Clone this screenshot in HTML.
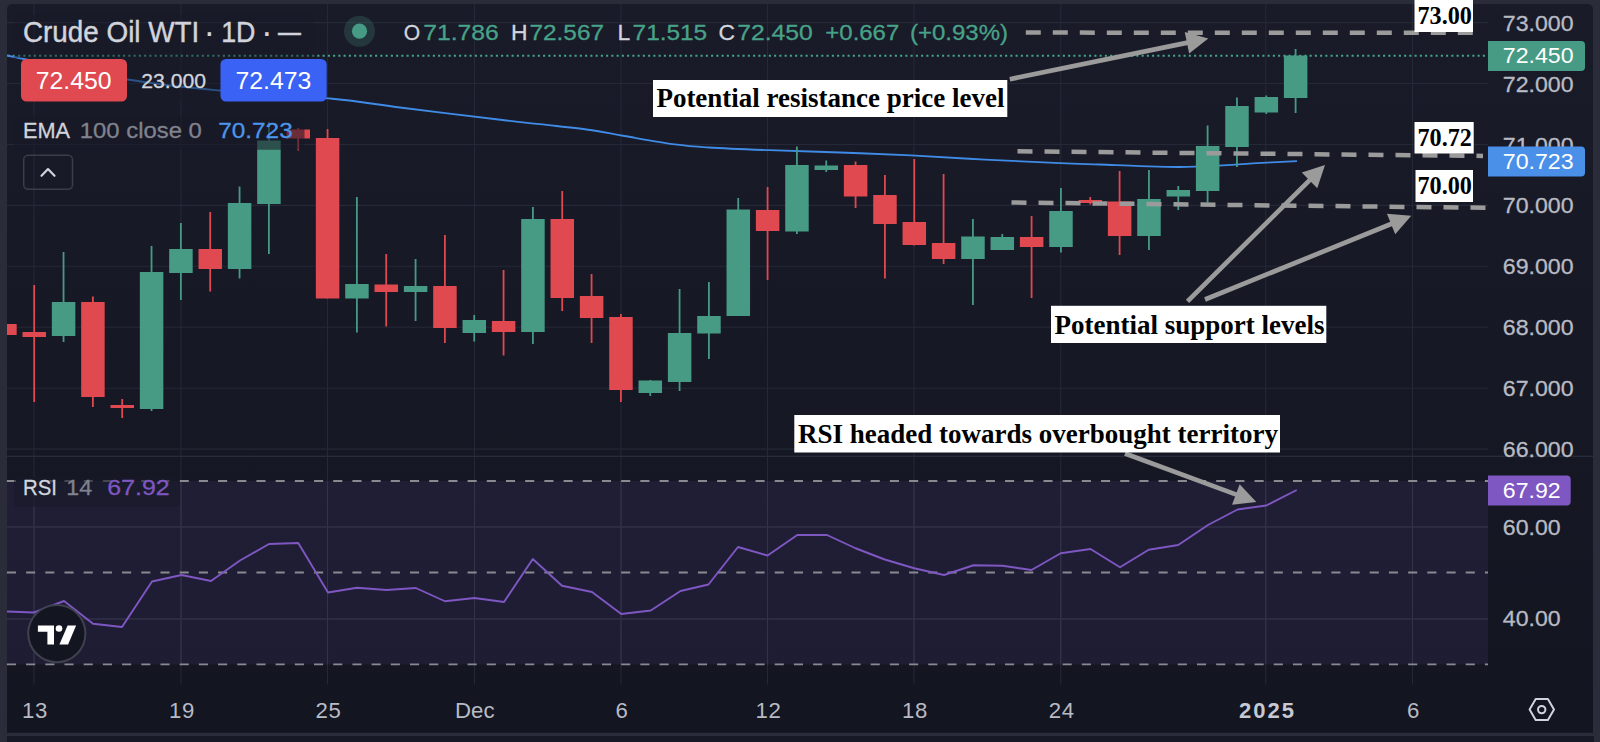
<!DOCTYPE html>
<html lang="en"><head><meta charset="utf-8"><title>Crude Oil WTI chart</title>
<style>
html,body{margin:0;padding:0;background:#2a2d39;}
body{width:1600px;height:742px;overflow:hidden;position:relative;}
svg{position:absolute;left:0;top:0;display:block;}
.s{font-family:"Liberation Sans",Arial,sans-serif;}
.f{font-family:"Liberation Serif","Times New Roman",serif;font-weight:700;fill:#000;}
</style></head><body>
<svg width="1600" height="742" viewBox="0 0 1600 742">
<defs><linearGradient id="bg" x1="0" y1="0" x2="0" y2="1"><stop offset="0" stop-color="#191b28"/><stop offset="1" stop-color="#131521"/></linearGradient><clipPath id="cp"><rect x="7" y="4" width="1481" height="681"/></clipPath></defs>

<path d="M7 732.8V9a5 5 0 0 1 5 -5H1588a5 5 0 0 1 5 5V732.8Z" fill="url(#bg)"/>
<rect x="7" y="736.1" width="1587" height="20" fill="#171926"/>
<g stroke="#252837" stroke-width="1.1">
<line x1="7" x2="1488" y1="22.60" y2="22.60"/>
<line x1="7" x2="1488" y1="83.53" y2="83.53"/>
<line x1="7" x2="1488" y1="144.46" y2="144.46"/>
<line x1="7" x2="1488" y1="205.39" y2="205.39"/>
<line x1="7" x2="1488" y1="266.32" y2="266.32"/>
<line x1="7" x2="1488" y1="327.25" y2="327.25"/>
<line x1="7" x2="1488" y1="388.18" y2="388.18"/>
<line x1="7" x2="1488" y1="449.11" y2="449.11"/>
<line x1="7" x2="1488" y1="527" y2="527"/>
<line x1="7" x2="1488" y1="619" y2="619"/>
<line x1="34" x2="34" y1="4" y2="684.5"/>
<line x1="181" x2="181" y1="4" y2="684.5"/>
<line x1="327.5" x2="327.5" y1="4" y2="684.5"/>
<line x1="474.5" x2="474.5" y1="4" y2="684.5"/>
<line x1="621" x2="621" y1="4" y2="684.5"/>
<line x1="767.5" x2="767.5" y1="4" y2="684.5"/>
<line x1="914" x2="914" y1="4" y2="684.5"/>
<line x1="1060.75" x2="1060.75" y1="4" y2="684.5"/>
<line x1="1265.7" x2="1265.7" y1="4" y2="684.5"/>
<line x1="1412.5" x2="1412.5" y1="4" y2="684.5"/>
</g>
<rect x="7" y="455.7" width="1586" height="1.2" fill="#2b2e3c"/>
<rect x="7" y="481" width="1481" height="183.5" fill="#7e57c2" fill-opacity="0.115"/>
<g stroke="#343249" stroke-width="1.1">
<line x1="7" x2="1488" y1="527" y2="527"/>
<line x1="7" x2="1488" y1="619" y2="619"/>
<line x1="34" x2="34" y1="481" y2="664.5"/>
<line x1="181" x2="181" y1="481" y2="664.5"/>
<line x1="327.5" x2="327.5" y1="481" y2="664.5"/>
<line x1="474.5" x2="474.5" y1="481" y2="664.5"/>
<line x1="621" x2="621" y1="481" y2="664.5"/>
<line x1="767.5" x2="767.5" y1="481" y2="664.5"/>
<line x1="914" x2="914" y1="481" y2="664.5"/>
<line x1="1060.75" x2="1060.75" y1="481" y2="664.5"/>
<line x1="1265.7" x2="1265.7" y1="481" y2="664.5"/>
<line x1="1412.5" x2="1412.5" y1="481" y2="664.5"/>
</g>
<g stroke="#89898f" stroke-width="1.85" stroke-dasharray="9.1 10.095" fill="none">
<line x1="6.9" x2="1488" y1="481" y2="481"/>
<line x1="6.9" x2="1488" y1="572.5" y2="572.5"/>
<line x1="6.9" x2="1488" y1="664.3" y2="664.3"/>
</g>
<line x1="7.6" x2="1488" y1="55.8" y2="55.8" stroke="#45a589" stroke-width="1.9" stroke-dasharray="2.05 3.2"/>
<g clip-path="url(#cp)">
<path d="M7 55.5C27.1 59.5 92.0 73.7 127.5 79.5C163.0 85.3 185.8 87.3 220 90.5C254.2 93.7 302.5 95.9 332.5 98.75C362.5 101.6 371.7 104.0 400 107.5C428.3 111.0 479.2 117.2 502.5 120C525.8 122.8 525.3 122.5 540 124.2C554.7 125.9 576.5 128.0 590.6 130C604.7 132.0 610.3 133.6 624.4 136C638.5 138.4 661.0 142.5 675 144.4C689.0 146.3 693.0 146.5 708.7 147.5C724.5 148.5 747.6 149.4 769.5 150.2C791.4 151.0 816.4 151.6 840 152.5C863.6 153.4 886.8 154.2 911 155.4C935.2 156.6 960.2 158.3 985 159.6C1009.8 160.9 1040.8 162.3 1060 163.1C1079.2 163.9 1086.7 164.0 1100 164.5C1113.3 165.0 1126.7 165.7 1140 166.1C1153.3 166.5 1166.9 167.1 1180 167C1193.1 166.9 1206.6 166.2 1218.7 165.6C1230.8 165.0 1239.5 164.2 1252.5 163.4C1265.5 162.7 1289.6 161.5 1297 161.1" fill="none" stroke="#3f8be6" stroke-width="1.8" stroke-linejoin="round"/>
<rect x="-6.83" y="324" width="23.5" height="11.00" fill="#e0494f"/>
<rect x="33.30" y="285" width="1.8" height="117.00" fill="#e0494f"/>
<rect x="22.50" y="332" width="23.5" height="5.00" fill="#e0494f"/>
<rect x="62.64" y="252" width="1.8" height="90.00" fill="#479b84"/>
<rect x="51.84" y="302" width="23.5" height="34.00" fill="#479b84"/>
<rect x="91.97" y="296.5" width="1.8" height="110.50" fill="#e0494f"/>
<rect x="81.17" y="302" width="23.5" height="95.00" fill="#e0494f"/>
<rect x="121.30" y="399" width="1.8" height="19.00" fill="#e0494f"/>
<rect x="110.50" y="405" width="23.5" height="3.00" fill="#e0494f"/>
<rect x="150.64" y="246" width="1.8" height="165.00" fill="#479b84"/>
<rect x="139.84" y="272" width="23.5" height="137.00" fill="#479b84"/>
<rect x="179.97" y="223" width="1.8" height="77.00" fill="#479b84"/>
<rect x="169.18" y="249" width="23.5" height="24.00" fill="#479b84"/>
<rect x="209.31" y="212" width="1.8" height="79.50" fill="#e0494f"/>
<rect x="198.51" y="249" width="23.5" height="20.00" fill="#e0494f"/>
<rect x="238.65" y="186.5" width="1.8" height="92.00" fill="#479b84"/>
<rect x="227.85" y="203" width="23.5" height="66.00" fill="#479b84"/>
<rect x="267.98" y="122" width="1.8" height="132.00" fill="#479b84"/>
<rect x="257.18" y="140.5" width="23.5" height="63.50" fill="#479b84"/>
<rect x="297.31" y="128" width="1.8" height="22.50" fill="#e0494f"/>
<rect x="286.51" y="129.5" width="23.5" height="9.00" fill="#e0494f"/>
<rect x="326.65" y="129" width="1.8" height="169.50" fill="#e0494f"/>
<rect x="315.85" y="138" width="23.5" height="160.50" fill="#e0494f"/>
<rect x="355.99" y="197" width="1.8" height="135.50" fill="#479b84"/>
<rect x="345.19" y="284" width="23.5" height="14.50" fill="#479b84"/>
<rect x="385.32" y="254" width="1.8" height="72.50" fill="#e0494f"/>
<rect x="374.52" y="284.5" width="23.5" height="7.50" fill="#e0494f"/>
<rect x="414.66" y="259" width="1.8" height="62.00" fill="#479b84"/>
<rect x="403.86" y="286" width="23.5" height="6.00" fill="#479b84"/>
<rect x="443.99" y="235" width="1.8" height="108.00" fill="#e0494f"/>
<rect x="433.19" y="286" width="23.5" height="42.00" fill="#e0494f"/>
<rect x="473.33" y="315" width="1.8" height="26.50" fill="#479b84"/>
<rect x="462.53" y="320" width="23.5" height="13.00" fill="#479b84"/>
<rect x="502.66" y="270" width="1.8" height="85.50" fill="#e0494f"/>
<rect x="491.86" y="321" width="23.5" height="11.00" fill="#e0494f"/>
<rect x="532.00" y="207" width="1.8" height="137.00" fill="#479b84"/>
<rect x="521.19" y="219" width="23.5" height="113.00" fill="#479b84"/>
<rect x="561.33" y="191" width="1.8" height="120.00" fill="#e0494f"/>
<rect x="550.53" y="219" width="23.5" height="79.00" fill="#e0494f"/>
<rect x="590.67" y="274" width="1.8" height="69.00" fill="#e0494f"/>
<rect x="579.87" y="296" width="23.5" height="22.00" fill="#e0494f"/>
<rect x="620.00" y="314" width="1.8" height="88.00" fill="#e0494f"/>
<rect x="609.20" y="317" width="23.5" height="73.00" fill="#e0494f"/>
<rect x="649.34" y="380" width="1.8" height="16.00" fill="#479b84"/>
<rect x="638.53" y="380.5" width="23.5" height="12.50" fill="#479b84"/>
<rect x="678.67" y="289" width="1.8" height="102.00" fill="#479b84"/>
<rect x="667.87" y="333" width="23.5" height="49.00" fill="#479b84"/>
<rect x="708.01" y="282" width="1.8" height="77.00" fill="#479b84"/>
<rect x="697.21" y="316" width="23.5" height="17.50" fill="#479b84"/>
<rect x="737.34" y="198" width="1.8" height="118.00" fill="#479b84"/>
<rect x="726.54" y="209.5" width="23.5" height="106.50" fill="#479b84"/>
<rect x="766.68" y="187" width="1.8" height="93.00" fill="#e0494f"/>
<rect x="755.88" y="210" width="23.5" height="21.00" fill="#e0494f"/>
<rect x="796.01" y="146.5" width="1.8" height="87.50" fill="#479b84"/>
<rect x="785.21" y="165" width="23.5" height="66.50" fill="#479b84"/>
<rect x="825.35" y="160.5" width="1.8" height="11.50" fill="#479b84"/>
<rect x="814.55" y="165.5" width="23.5" height="4.50" fill="#479b84"/>
<rect x="854.68" y="161.5" width="1.8" height="46.50" fill="#e0494f"/>
<rect x="843.88" y="165" width="23.5" height="31.50" fill="#e0494f"/>
<rect x="884.02" y="175" width="1.8" height="103.50" fill="#e0494f"/>
<rect x="873.22" y="195" width="23.5" height="29.00" fill="#e0494f"/>
<rect x="913.35" y="159" width="1.8" height="86.50" fill="#e0494f"/>
<rect x="902.55" y="222" width="23.5" height="23.00" fill="#e0494f"/>
<rect x="942.69" y="174" width="1.8" height="90.00" fill="#e0494f"/>
<rect x="931.88" y="243" width="23.5" height="16.00" fill="#e0494f"/>
<rect x="972.02" y="219" width="1.8" height="86.00" fill="#479b84"/>
<rect x="961.22" y="236.5" width="23.5" height="22.50" fill="#479b84"/>
<rect x="1001.36" y="234" width="1.8" height="16.00" fill="#479b84"/>
<rect x="990.56" y="237" width="23.5" height="13.00" fill="#479b84"/>
<rect x="1030.69" y="216" width="1.8" height="82.00" fill="#e0494f"/>
<rect x="1019.89" y="237" width="23.5" height="10.00" fill="#e0494f"/>
<rect x="1060.03" y="188" width="1.8" height="64.50" fill="#479b84"/>
<rect x="1049.23" y="211" width="23.5" height="36.00" fill="#479b84"/>
<rect x="1089.36" y="197" width="1.8" height="7.50" fill="#e0494f"/>
<rect x="1078.56" y="200" width="23.5" height="3.00" fill="#e0494f"/>
<rect x="1118.69" y="171" width="1.8" height="84.00" fill="#e0494f"/>
<rect x="1107.89" y="201.5" width="23.5" height="34.50" fill="#e0494f"/>
<rect x="1148.03" y="170" width="1.8" height="80.00" fill="#479b84"/>
<rect x="1137.23" y="199" width="23.5" height="37.00" fill="#479b84"/>
<rect x="1177.37" y="186" width="1.8" height="24.00" fill="#479b84"/>
<rect x="1166.57" y="190" width="23.5" height="6.50" fill="#479b84"/>
<rect x="1206.70" y="125.5" width="1.8" height="77.00" fill="#479b84"/>
<rect x="1195.90" y="146" width="23.5" height="45.00" fill="#479b84"/>
<rect x="1236.04" y="97.5" width="1.8" height="69.50" fill="#479b84"/>
<rect x="1225.24" y="106" width="23.5" height="41.00" fill="#479b84"/>
<rect x="1265.37" y="95.5" width="1.8" height="18.50" fill="#479b84"/>
<rect x="1254.57" y="97" width="23.5" height="15.50" fill="#479b84"/>
<rect x="1294.70" y="49" width="1.8" height="64.00" fill="#479b84"/>
<rect x="1283.90" y="55.5" width="23.5" height="42.50" fill="#479b84"/>
</g>
<polyline points="7,611.5 34,612.5 64,601 93,623.75 122,627 152,581.5 181.5,575 211,581 240,560.5 269,544 298.3,543 328,592.5 357,587.75 386.5,590 415.75,588 445,601.25 474.5,598 504,602 532.8,559 562,585.75 592,592 621.25,614 650.75,610.5 680.5,591 708.5,584.5 738,547 767.6,555.5 797.3,535 827,535 855.5,548.25 884.7,559.5 914.2,568.25 944,575 973.5,565.25 1002.5,565.75 1031.5,570 1060.75,553.25 1090.5,549 1120,567.3 1148.7,549.7 1178.25,545 1208,525 1237.5,509.5 1266.25,505.5 1296.75,490" fill="none" stroke="#7e57c2" stroke-width="1.9" stroke-linejoin="round"/>
<rect x="14" y="116" width="290.5" height="33.7" rx="3" fill="#181a27" fill-opacity="0.58"/>
<rect x="14" y="477" width="166" height="29.8" rx="3" fill="#171926" fill-opacity="0.6"/>
<rect x="14" y="14" width="300" height="44" fill="#181a27" fill-opacity="0.4"/>
<text class="s" y="42.2" font-size="29.6" fill="#d1d4dc" stroke="#d1d4dc" stroke-width="0.45"><tspan x="23" textLength="176.2" lengthAdjust="spacingAndGlyphs">Crude Oil WTI</tspan><tspan font-size="1"> </tspan><tspan x="203.4" y="44.3" font-size="35" stroke-width="0">·</tspan><tspan font-size="1"> </tspan><tspan x="221.2" y="42.2" textLength="34.3" lengthAdjust="spacingAndGlyphs">1D</tspan><tspan font-size="1"> </tspan><tspan x="261.1" y="44.3" font-size="35" stroke-width="0">·</tspan><tspan font-size="1"> </tspan><tspan x="278" y="42" textLength="22.9" lengthAdjust="spacingAndGlyphs">—</tspan></text>
<circle cx="359.5" cy="31.2" r="15.5" fill="#479b84" fill-opacity="0.22"/><circle cx="359.5" cy="31.2" r="7.6" fill="#479b84"/>
<text class="s" x="403.7" y="40.1" font-size="22.9" fill="#d1d4dc" stroke="#d1d4dc" stroke-width="0.3" textLength="16.4" lengthAdjust="spacingAndGlyphs">O</text>
<text class="s" x="423.2" y="40.1" font-size="22.9" fill="#48a288" stroke="#48a288" stroke-width="0.3" textLength="75.5" lengthAdjust="spacingAndGlyphs">71.786</text>
<text class="s" x="511" y="40.1" font-size="22.9" fill="#d1d4dc" stroke="#d1d4dc" stroke-width="0.3">H</text>
<text class="s" x="529.5" y="40.1" font-size="22.9" fill="#48a288" stroke="#48a288" stroke-width="0.3" textLength="74.5" lengthAdjust="spacingAndGlyphs">72.567</text>
<text class="s" x="617.5" y="40.1" font-size="22.9" fill="#d1d4dc" stroke="#d1d4dc" stroke-width="0.3">L</text>
<text class="s" x="632.6" y="40.1" font-size="22.9" fill="#48a288" stroke="#48a288" stroke-width="0.3" textLength="74.5" lengthAdjust="spacingAndGlyphs">71.515</text>
<text class="s" x="718.5" y="40.1" font-size="22.9" fill="#d1d4dc" stroke="#d1d4dc" stroke-width="0.3">C</text>
<text class="s" x="737.2" y="40.1" font-size="22.9" fill="#48a288" stroke="#48a288" stroke-width="0.3" textLength="75.5" lengthAdjust="spacingAndGlyphs">72.450</text>
<text class="s" x="825.3" y="40.1" font-size="22.9" fill="#48a288" stroke="#48a288" stroke-width="0.3" textLength="74" lengthAdjust="spacingAndGlyphs">+0.667</text>
<text class="s" x="910" y="40.1" font-size="22.9" fill="#48a288" stroke="#48a288" stroke-width="0.3" textLength="98" lengthAdjust="spacingAndGlyphs">(+0.93%)</text>
<rect x="21" y="59" width="106" height="42.6" rx="5.5" fill="#e0494f"/>
<text class="s" x="35.7" y="89.3" font-size="23.4" fill="#fff" textLength="75.9" lengthAdjust="spacingAndGlyphs">72.450</text>
<rect x="127" y="59" width="94" height="42.6" fill="#181a27" fill-opacity="0.5"/>
<text class="s" x="141.3" y="87.8" font-size="20.6" fill="#d1d4dc" stroke="#d1d4dc" stroke-width="0.3" textLength="64.8" lengthAdjust="spacingAndGlyphs">23.000</text>
<rect x="220.5" y="59" width="106.2" height="42.6" rx="5.5" fill="#3a62f5"/>
<text class="s" x="235.4" y="89.3" font-size="23.4" fill="#fff" textLength="75.9" lengthAdjust="spacingAndGlyphs">72.473</text>
<text class="s" x="23" y="138" font-size="22.3" fill="#d1d4dc" stroke="#d1d4dc" stroke-width="0.3" textLength="47" lengthAdjust="spacingAndGlyphs">EMA</text>
<text class="s" x="79.8" y="138" font-size="22.3" fill="#80838e" stroke="#80838e" stroke-width="0.3" textLength="122" lengthAdjust="spacingAndGlyphs">100 close 0</text>
<text class="s" x="218.2" y="138" font-size="22.3" fill="#4b96ea" stroke="#4b96ea" stroke-width="0.3" textLength="74.5" lengthAdjust="spacingAndGlyphs">70.723</text>
<rect x="23.7" y="155.2" width="48.8" height="34" rx="4.5" fill="none" stroke="#3a3d4a" stroke-width="1.5"/>
<polyline points="41.5,175.8 48,169.1 54.5,175.8" fill="none" stroke="#d1d4dc" stroke-width="2.2" stroke-linecap="round" stroke-linejoin="round"/>
<text class="s" x="23" y="494.9" font-size="22.2" fill="#d1d4dc" stroke="#d1d4dc" stroke-width="0.3" textLength="34" lengthAdjust="spacingAndGlyphs">RSI</text>
<text class="s" x="66.3" y="494.9" font-size="22.2" fill="#80838e" stroke="#80838e" stroke-width="0.3" textLength="25.8" lengthAdjust="spacingAndGlyphs">14</text>
<text class="s" x="107.3" y="494.9" font-size="22.2" fill="#7e57c2" stroke="#7e57c2" stroke-width="0.3" textLength="62.4" lengthAdjust="spacingAndGlyphs">67.92</text>
<text class="s" x="1502.8" y="30.7" font-size="22.8" fill="#b8bbc4" stroke="#b8bbc4" stroke-width="0.3" textLength="70.8" lengthAdjust="spacingAndGlyphs">73.000</text>
<text class="s" x="1502.8" y="91.63000000000001" font-size="22.8" fill="#b8bbc4" stroke="#b8bbc4" stroke-width="0.3" textLength="70.8" lengthAdjust="spacingAndGlyphs">72.000</text>
<text class="s" x="1502.8" y="152.56" font-size="22.8" fill="#b8bbc4" stroke="#b8bbc4" stroke-width="0.3" textLength="70.8" lengthAdjust="spacingAndGlyphs">71.000</text>
<text class="s" x="1502.8" y="213.48999999999998" font-size="22.8" fill="#b8bbc4" stroke="#b8bbc4" stroke-width="0.3" textLength="70.8" lengthAdjust="spacingAndGlyphs">70.000</text>
<text class="s" x="1502.8" y="274.42" font-size="22.8" fill="#b8bbc4" stroke="#b8bbc4" stroke-width="0.3" textLength="70.8" lengthAdjust="spacingAndGlyphs">69.000</text>
<text class="s" x="1502.8" y="335.34999999999997" font-size="22.8" fill="#b8bbc4" stroke="#b8bbc4" stroke-width="0.3" textLength="70.8" lengthAdjust="spacingAndGlyphs">68.000</text>
<text class="s" x="1502.8" y="396.28" font-size="22.8" fill="#b8bbc4" stroke="#b8bbc4" stroke-width="0.3" textLength="70.8" lengthAdjust="spacingAndGlyphs">67.000</text>
<text class="s" x="1502.8" y="457.21" font-size="22.8" fill="#b8bbc4" stroke="#b8bbc4" stroke-width="0.3" textLength="70.8" lengthAdjust="spacingAndGlyphs">66.000</text>
<text class="s" x="1502.8" y="534.5" font-size="22.8" fill="#b8bbc4" stroke="#b8bbc4" stroke-width="0.3" textLength="57.8" lengthAdjust="spacingAndGlyphs">60.00</text>
<text class="s" x="1502.8" y="626.1" font-size="22.8" fill="#b8bbc4" stroke="#b8bbc4" stroke-width="0.3" textLength="57.8" lengthAdjust="spacingAndGlyphs">40.00</text>
<path d="M1488 41h93a4 4 0 0 1 4 4v22a4 4 0 0 1 -4 4h-93z" fill="#479b84"/>
<text class="s" x="1502.8" y="63.4" font-size="22.8" fill="#fff" textLength="70.8" lengthAdjust="spacingAndGlyphs">72.450</text>
<path d="M1488 146.5h93a4 4 0 0 1 4 4v22a4 4 0 0 1 -4 4h-93z" fill="#4a90e8"/>
<text class="s" x="1502.8" y="168.6" font-size="22.8" fill="#fff" textLength="70.8" lengthAdjust="spacingAndGlyphs">70.723</text>
<path d="M1488 475.5h78.7a4 4 0 0 1 4 4v22a4 4 0 0 1 -4 4h-78.7z" fill="#7e57c2"/>
<text class="s" x="1502.8" y="498.2" font-size="22.8" fill="#fff" textLength="57.8" lengthAdjust="spacingAndGlyphs">67.92</text>
<text class="s" x="35.0" y="717.8" font-size="22.2" fill="#b8bbc4" text-anchor="middle" letter-spacing="0.7">13</text>
<text class="s" x="182.0" y="717.8" font-size="22.2" fill="#b8bbc4" text-anchor="middle" letter-spacing="0.7">19</text>
<text class="s" x="328.5" y="717.8" font-size="22.2" fill="#b8bbc4" text-anchor="middle" letter-spacing="0.7">25</text>
<text class="s" x="474.8" y="717.8" font-size="22.2" fill="#b8bbc4" text-anchor="middle" letter-spacing="0">Dec</text>
<text class="s" x="622.0" y="717.8" font-size="22.2" fill="#b8bbc4" text-anchor="middle" letter-spacing="0.7">6</text>
<text class="s" x="768.5" y="717.8" font-size="22.2" fill="#b8bbc4" text-anchor="middle" letter-spacing="0.7">12</text>
<text class="s" x="915.0" y="717.8" font-size="22.2" fill="#b8bbc4" text-anchor="middle" letter-spacing="0.7">18</text>
<text class="s" x="1061.75" y="717.8" font-size="22.2" fill="#b8bbc4" text-anchor="middle" letter-spacing="0.7">24</text>
<text class="s" x="1413.5" y="717.8" font-size="22.2" fill="#b8bbc4" text-anchor="middle" letter-spacing="0.7">6</text>
<text class="s" x="1266.5" y="717.8" font-size="22" font-weight="700" fill="#c6c9d1" text-anchor="middle" textLength="55" lengthAdjust="spacing">2025</text>
<g fill="none" stroke="#d1d4dc" stroke-width="2" stroke-linejoin="round"><path d="M1529.6 709.5l6.1-10.5h12.2l6.1 10.5-6.1 10.5h-12.2z"/><circle cx="1541.7" cy="709.6" r="3.7"/></g>
<circle cx="56.8" cy="633.6" r="28.6" fill="#131521" stroke="#3f424e" stroke-width="2"/>
<path d="M37.9 625.4H54V644.4H47.4V631.8H37.9Z" fill="#fff"/><circle cx="59" cy="628.5" r="3.3" fill="#fff"/><path d="M67.6 625.4H76.1L68.1 644.4H59.4Z" fill="#fff"/>
<g stroke="#9b9b9b" stroke-width="4.5" stroke-dasharray="15 12" fill="none">
<line x1="1025.8" y1="32.6" x2="1473" y2="32.8"/>
<line x1="1017.5" y1="151.3" x2="1483" y2="155.9"/>
<line x1="1011.5" y1="202.5" x2="1487" y2="207.8"/>
</g>
<line x1="1009.8" y1="79.2" x2="1188.91" y2="42.39" stroke="#9b9b9b" stroke-width="4.7"/>
<polygon points="1208.3,38.4 1189.16,53.56 1184.73,32.01" fill="#9b9b9b"/>
<line x1="1187.5" y1="301.3" x2="1310.94" y2="178.94" stroke="#9b9b9b" stroke-width="4.7"/>
<polygon points="1325,165 1317.26,188.16 1301.77,172.54" fill="#9b9b9b"/>
<line x1="1205" y1="299.5" x2="1392.95" y2="223.24" stroke="#9b9b9b" stroke-width="4.7"/>
<polygon points="1411.3,215.8 1395.23,234.19 1386.96,213.80" fill="#9b9b9b"/>
<line x1="1125" y1="453.5" x2="1237.73" y2="495.14" stroke="#9b9b9b" stroke-width="4.7"/>
<polygon points="1256.3,502 1232.04,504.76 1239.66,484.13" fill="#9b9b9b"/>
<rect x="653" y="80" width="354.29999999999995" height="37" fill="#fff"/>
<text class="f" x="656.4" y="107.3" font-size="27">Potential resistance price level</text>
<rect x="1051" y="305.8" width="275.29999999999995" height="37.19999999999999" fill="#fff"/>
<text class="f" x="1054.5" y="333.6" font-size="27">Potential support levels</text>
<rect x="794.3" y="415" width="485.70000000000005" height="37.5" fill="#fff"/>
<text class="f" x="798" y="442.5" font-size="27">RSI headed towards overbought territory</text>
<rect x="1414.5" y="0" width="58.5" height="32" fill="#fff"/>
<text class="f" x="1417.5" y="23.9" font-size="24.2">73.00</text>
<rect x="1414.5" y="122" width="59.200000000000045" height="31.5" fill="#fff"/>
<text class="f" x="1417.5" y="145.6" font-size="24.2">70.72</text>
<rect x="1415.5" y="170" width="57.5" height="32" fill="#fff"/>
<text class="f" x="1417.5" y="193.6" font-size="24.2">70.00</text>
</svg></body></html>
